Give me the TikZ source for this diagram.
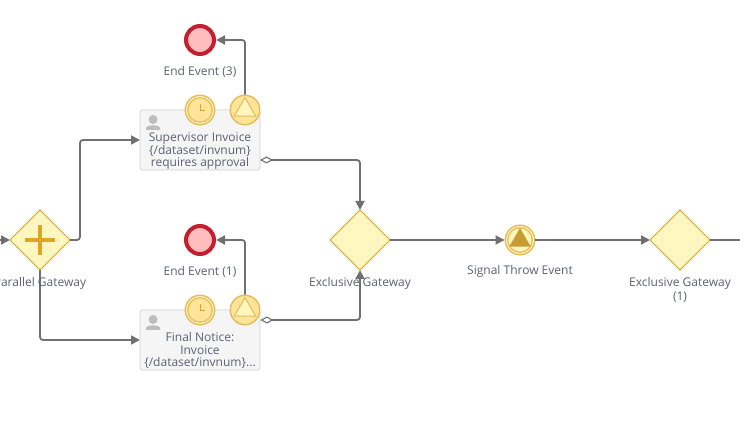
\documentclass[tikz,border=0pt]{standalone}
\usepackage{fontspec}
\setmainfont{Open Sans}
\usetikzlibrary{shapes.geometric, arrows.meta}
\definecolor{FlowGrey}{HTML}{707070}
\definecolor{LabelGrey}{HTML}{5C6070}
\definecolor{IconGrey}{HTML}{BDBDBD}
\definecolor{TaskFill}{HTML}{F5F5F5}
\definecolor{TaskDraw}{HTML}{E2E2E2}
\definecolor{GateFill}{HTML}{FFF7BF}
\definecolor{GateDraw}{HTML}{D9A520}
\definecolor{GatePlus}{HTML}{DFA625}
\definecolor{EndFill}{HTML}{FFBDBD}
\definecolor{EndDraw}{HTML}{C22030}
\definecolor{RingDraw}{HTML}{E3BC58}
\definecolor{RingFill}{HTML}{FFE49A}
\definecolor{SignalFill}{HTML}{FFF5BE}
\definecolor{SignalDark}{HTML}{C99B33}
\tikzset{
    % Boxes and events
    task/.style={
        rectangle,
        rounded corners=2.5pt,
        draw=TaskDraw,
        fill=TaskFill,
        line width=1.2pt,
        minimum width=120pt,
        minimum height=60pt,
        outer sep=0pt
    },
    gateway/.style={
        diamond,
        draw=GateDraw,
        fill=GateFill,
        line width=0.8pt,
        minimum width=60pt,
        minimum height=60pt,
        inner sep=0pt,
        outer sep=0pt
    },
    end event/.style={
        circle,
        draw=EndDraw,
        fill=EndFill,
        line width=4pt,
        minimum size=28pt,
        inner sep=0pt,
        outer sep=2pt
    },
    ring event/.style={
        circle,
        draw=RingDraw,
        fill=SignalFill,
        line width=1.4pt,
        minimum size=29.5pt,
        inner sep=0pt,
        outer sep=0.7pt
    },
    ring inner/.style={
        circle,
        draw=RingDraw,
        fill=RingFill,
        line width=1.2pt,
        minimum size=24.5pt,
        inner sep=0pt
    },
    signal mark/.style={
        regular polygon,
        regular polygon sides=3,
        draw=RingDraw,
        fill=SignalFill,
        line width=1pt,
        minimum size=25pt,
        inner sep=0pt
    },
    throw mark/.style={
        regular polygon,
        regular polygon sides=3,
        fill=SignalDark,
        minimum size=25pt,
        inner sep=0pt
    },
    caption/.style={
        text=LabelGrey,
        font=\fontsize{12}{12.5}\selectfont,
        align=center,
        inner sep=0pt
    },
    flow/.style={
        -{Triangle[length=9pt,width=9pt]},
        line width=1.8pt,
        draw=FlowGrey,
        rounded corners=3pt
    },
    flow line/.style={
        line width=1.8pt,
        draw=FlowGrey,
        rounded corners=3pt
    },
    assoc/.style={
        {Diamond[open,length=13pt,width=7pt,line width=1.1pt]}-{Triangle[length=9pt,width=9pt]},
        line width=1.8pt,
        draw=FlowGrey,
        rounded corners=3pt
    }
}
\begin{document}
\begin{tikzpicture}[x=1pt, y=-1pt]
        \useasboundingbox (0,0) rectangle (740,438);
        \clip (0,0) rectangle (740,438);

        % Gateways and events
        \node[gateway] (parallel) at (40,240) {};
        \node[gateway] (exclusive) at (360,240) {};
        \node[gateway] (exclusive1) at (680,240) {};
        \node[end event] (end3) at (200,40) {};
        \node[end event] (end1) at (200,240) {};
        \coordinate (inflow) at (0,240);
        \coordinate (outflow) at (740,240);

        % Tasks
        \node[task] (supervisor) at (200,140) {};
        \node[task] (notice) at (200,340) {};

        % Boundary events on the tasks
        \node[ring event] (timer3) at (200,110) {};
        \node[ring inner] (timer3in) at (200,110) {};
        \draw[GatePlus, line width=1pt] (200,104) -- (200,111) -- (205,111);
        \node[ring event, fill=RingFill] (signal3) at (245,110) {};
        \node[signal mark] (signal3in) at (245,110) {};

        \node[ring event] (timer1) at (200,310) {};
        \node[ring inner] (timer1in) at (200,310) {};
        \draw[GatePlus, line width=1pt] (200,304) -- (200,311) -- (205,311);
        \node[ring event, fill=RingFill] (signal1) at (245,310) {};
        \node[signal mark] (signal1in) at (245,310) {};

        % Signal throw
        \node[ring event] (throw) at (520,240) {};
        \node[ring inner, fill=SignalFill] (throwin) at (520,240) {};
        \node[throw mark] (throwmark) at (520,240.5) {};

        % Plus of the parallel gateway
        \draw[GatePlus, line width=3.3pt] (25,240) -- (55,240);
        \draw[GatePlus, line width=3.3pt] (40,225) -- (40,255);

        % Person icons
        \fill[IconGrey] (153,119.5) circle (4.5);
        \fill[IconGrey] (146,130) -- (146,128) .. controls (146,124.5) and (160,124.5) .. (160,128) -- (160,130) -- cycle;
        \fill[IconGrey] (153,319.5) circle (4.5);
        \fill[IconGrey] (146,330) -- (146,328) .. controls (146,324.5) and (160,324.5) .. (160,328) -- (160,330) -- cycle;

        % Arrows
        \draw[flow] (inflow) -- (parallel.west);
        \draw[flow] (parallel.east) -- (80,240) -- (80,140) -- (supervisor.west);
        \draw[flow] (parallel.south) -- (40,340) -- (notice.west);
        \draw[flow] (signal3.north) -- (245,40) -- (end3.east);
        \draw[flow] (signal1.north) -- (245,240) -- (end1.east);
        \draw[assoc] ([yshift=-20pt]supervisor.east) -- (360,160) -- (exclusive.north);
        \draw[assoc] ([yshift=-10pt]signal1.east) -- (360,320) -- (exclusive.south);
        \draw[flow] (exclusive.east) -- (throw.west);
        \draw[flow] (throw.east) -- (exclusive1.west);
        \draw[flow line] (exclusive1.east) -- (outflow);

        % Labels
        \node[caption] (end3label) at (200,71.5) {End Event (3)};
        \node[caption] (end1label) at (200,271.5) {End Event (1)};
        \node[caption] (parallellabel) at (40,283.5) {Parallel Gateway};
        \node[caption] (exclusivelabel) at (360,283.5) {Exclusive Gateway};
        \node[caption] (throwlabel) at (520,271.5) {Signal Throw Event};
        \node[caption, anchor=north] (exclusive1label) at (680,277.5) {Exclusive Gateway\\[1.5pt](1)};
        \node[caption, anchor=north] (supervisortext) at (200,132.5) {Supervisor Invoice\\\{/dataset/invnum\}\\requires approval};
        \node[caption, anchor=north] (noticetext) at (200,332.5) {Final Notice:\\Invoice\\\{/dataset/invnum\}...};
    \end{tikzpicture}
\end{document}
